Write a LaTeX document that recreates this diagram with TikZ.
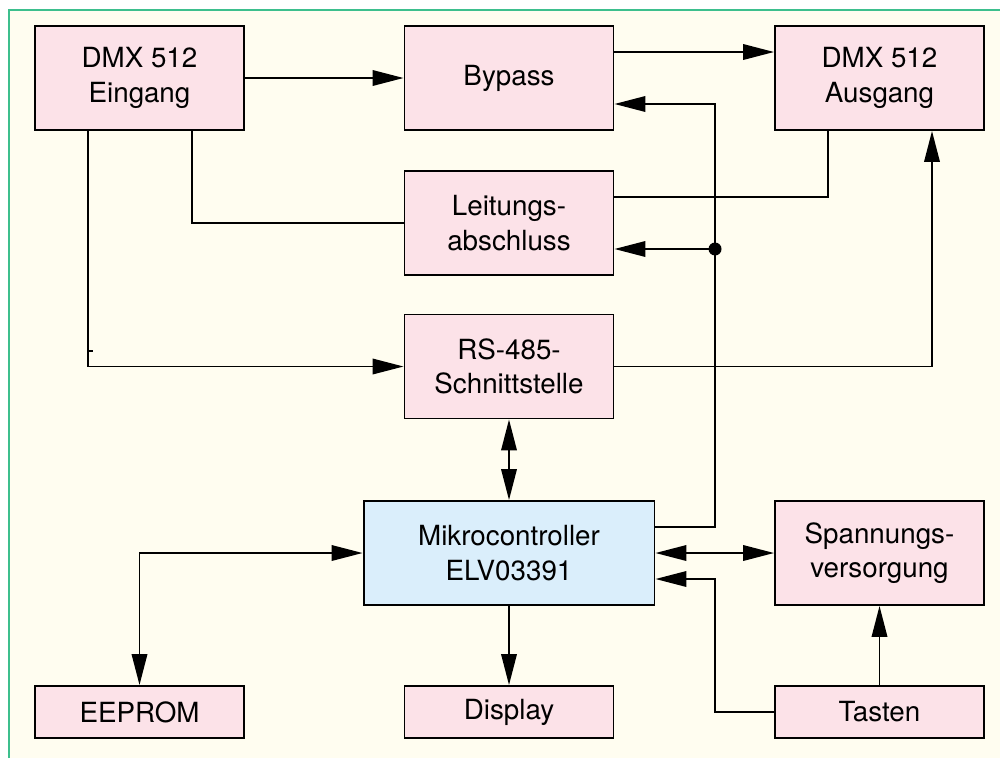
\documentclass[tikz,border=0pt]{standalone}
\usepackage{fontspec}
\setmainfont{TeX Gyre Heros}
\usetikzlibrary{arrows.meta}
\definecolor{boxpink}{HTML}{FCE2E8}
\definecolor{boxblue}{HTML}{DAEEFB}
\definecolor{bgcream}{HTML}{FFFDF0}
\definecolor{framegreen}{HTML}{3DBF8D}
\begin{document}
\begin{tikzpicture}[x=0.02cm, y=-0.02cm, line width=1.1pt,
	block/.style={draw, fill=boxpink, align=center, minimum width=4.18cm, minimum height=2.08cm, inner sep=0pt, font=\fontsize{15.8}{19.5}\selectfont},
	lowblock/.style={block, minimum height=1.04cm},
	arr/.style={-{Triangle[length=6.2mm, width=3.1mm]}},
	arrs/.style={{Triangle[length=6.2mm, width=3.1mm]}-{Triangle[length=6.2mm, width=3.1mm]}}]
	\useasboundingbox (0,0) rectangle (1000,758);
	\fill[bgcream] (9,10) rectangle (1000,758);
	\draw[framegreen, line width=1.6pt] (9,758) -- (9,10) -- (1000,10);

	\node[block] (ein) at (139.5,78) {DMX 512\\Eingang};
	\node[block] (bypass) at (509,78) {Bypass};
	\node[block] (aus) at (879.5,78) {DMX 512\\Ausgang};
	\node[block] (leit) at (509,223) {Leitungs-\\abschluss};
	\node[block] (rs) at (509,366.5) {RS-485-\\Schnittstelle};
	\node[block, fill=boxblue, minimum width=5.82cm] (mc) at (509,553) {Mikrocontroller\\ELV03391};
	\node[block] (spann) at (879.5,553) {Spannungs-\\versorgung};
	\node[lowblock] (eeprom) at (139.5,712) {EEPROM};
	\node[lowblock] (display) at (509,712) {Display};
	\node[lowblock] (tasten) at (879.5,712) {Tasten};

	\coordinate (bus) at (715,0);
	\coordinate (byin) at ([yshift=-0.52cm]bypass.east);
	\coordinate (leitin) at ([yshift=-0.52cm]leit.east);
	\coordinate (mcin) at ([yshift=-0.52cm]mc.east);

	\draw[arr] (ein.east) -- (bypass.west);
	\draw[arr] ([yshift=0.52cm]bypass.east) -- ([yshift=0.52cm]aus.west);
	\draw ([xshift=1.05cm]ein.south) |- (leit.west);
	\draw[arr] ([xshift=-1.03cm]ein.south) |- (rs.west);
	\draw[line width=1.6pt] (87,351) -- (93,351);
	\draw ([yshift=0.52cm]leit.east) -| ([xshift=-1.03cm]aus.south);
	\draw[arr] (rs.east) -| ([xshift=1.05cm]aus.south);

	\draw[arr] ([yshift=0.52cm]mc.east) -| (bus |- byin) -- (byin);
	\fill (bus |- leitin) circle (0.13cm);
	\draw[arr] (bus |- leitin) -- (leitin);
	\draw[arrs] (rs.south) -- (mc.north);
	\draw[arrs] (eeprom.north) |- (mc.west);
	\draw[arr] (mc.south) -- (display.north);
	\draw[arrs] (mc.east) -- (spann.west);
	\draw[arr] (tasten.west) -| (bus |- mcin) -- (mcin);
	\draw[arr] (tasten.north) -- (spann.south);
\end{tikzpicture}
\end{document}
